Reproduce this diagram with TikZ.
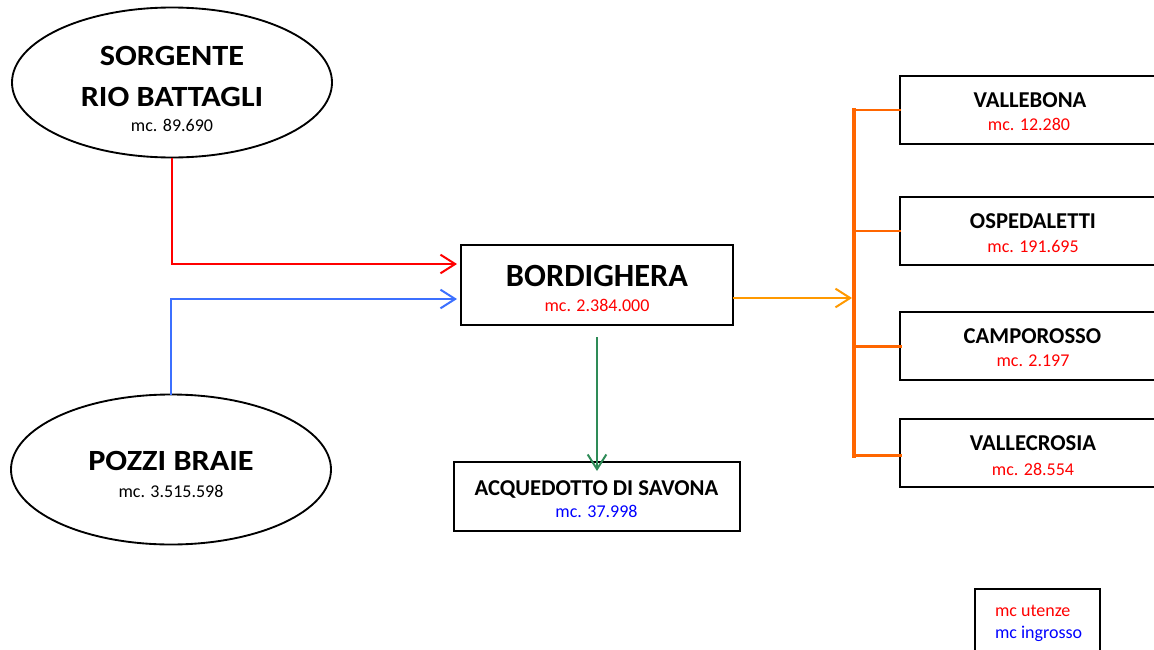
\documentclass[tikz,border=0pt]{standalone}
\usepackage{fontspec}
\setmainfont{Carlito}
\usetikzlibrary{arrows.meta,shapes.geometric}

\definecolor{flowred}{RGB}{255,0,0}
\definecolor{flowblue}{RGB}{60,112,255}
\definecolor{floworange}{RGB}{255,153,0}
\definecolor{branchorange}{RGB}{255,102,0}
\definecolor{flowgreen}{RGB}{46,139,87}
\definecolor{valred}{RGB}{255,0,0}
\definecolor{valblue}{RGB}{0,0,255}

\begin{document}
\begin{tikzpicture}[x=0.75pt,y=-0.75pt,
  every node/.style={inner sep=0pt,outer sep=0pt},
  source/.style={ellipse,draw,line width=1.4pt,minimum width=240pt,minimum height=112.5pt},
  hub/.style={rectangle,draw,line width=1.5pt,minimum width=204pt,minimum height=60pt},
  outbox/.style={rectangle,draw,line width=1.5pt,minimum width=214.5pt,minimum height=51.75pt},
  town/.style={rectangle,draw,line width=1.5pt,minimum width=198pt,minimum height=51pt},
  bigtitle/.style={anchor=base,xscale=1.1,font=\fontsize{22}{26}\selectfont\bfseries},
  hubtitle/.style={anchor=base,font=\fontsize{24.3}{29}\selectfont\bfseries},
  boxtitle/.style={anchor=base,font=\fontsize{17}{20}\selectfont\bfseries},
  value/.style={anchor=base,font=\fontsize{13.5}{16}\selectfont},
  flow/.style={line width=1.5pt,-{Straight Barb[length=11pt,width=14pt,line width=1.5pt]}},
  branch/.style={draw=branchorange,line cap=rect}
]
\useasboundingbox (0,0) rectangle (1154,650);

% sources
\node[source] (sorgente) at (172,82.5) {};
\node[bigtitle] (sorgente-t1) at (172,65) {SORGENTE};
\node[bigtitle] (sorgente-t2) at (172,106) {RIO BATTAGLI};
\node[value] (sorgente-v) at (172,131) {mc. 89.690};

\node[source] (pozzi) at (171,469.5) {};
\node[bigtitle] (pozzi-t) at (171,470.5) {POZZI BRAIE};
\node[value] (pozzi-v) at (171,497) {mc. 3.515.598};

% main node
\node[hub] (bordighera) at (597,285) {};
\node[hubtitle] (bordighera-t) at (597,286) {BORDIGHERA};
\node[value,text=valred] (bordighera-v) at (597,311.5) {mc. 2.384.000};

% wholesale outlet
\node[outbox] (savona) at (597,496.5) {};
\node[boxtitle] (savona-t) at (596.5,495.5) {ACQUEDOTTO DI SAVONA};
\node[value,text=valblue] (savona-v) at (596.5,517.5) {mc. 37.998};

% served towns
\node[town] (vallebona) at (1032,110) {};
\node[boxtitle] (vallebona-t) at (1030,107.5) {VALLEBONA};
\node[value,text=valred] (vallebona-v) at (1029,130.5) {mc. 12.280};

\node[town] (ospedaletti) at (1032,231) {};
\node[boxtitle] (ospedaletti-t) at (1033,228) {OSPEDALETTI};
\node[value,text=valred] (ospedaletti-v) at (1033,252) {mc. 191.695};

\node[town] (camporosso) at (1032,346) {};
\node[boxtitle] (camporosso-t) at (1032.5,343) {CAMPOROSSO};
\node[value,text=valred] (camporosso-v) at (1033,366) {mc. 2.197};

\node[town] (vallecrosia) at (1032,453) {};
\node[boxtitle] (vallecrosia-t) at (1033,450.5) {VALLECROSIA};
\node[value,text=valred] (vallecrosia-v) at (1033,475) {mc. 28.554};

% legend
\node[rectangle,draw,line width=1.5pt,minimum width=93.75pt,minimum height=83.25pt] (legend) at (1037.5,644.5) {};
\node[value,anchor=base west,text=valred] (legend-u) at (995,616.5) {mc utenze};
\node[value,anchor=base west,text=valblue] (legend-i) at (995,638) {mc ingrosso};

% distribution bracket
\coordinate (brTop) at (854,110);
\coordinate (brMid) at (854,298);
\coordinate (brBot) at (854,455.5);
\draw[branch,line width=3pt] (brTop) -- (brBot);
\draw[branch,line width=1.5pt] (brTop) -- (vallebona.west);
\draw[branch,line width=1.5pt] (ospedaletti.west -| brTop) -- (ospedaletti.west);
\draw[branch,line width=2.25pt] (camporosso.west -| brTop) -- (camporosso.west);
\draw[branch,line width=2.25pt] (brBot) -- (brBot -| vallecrosia.west);

% flows
\draw[flow,draw=flowred,shorten >=3pt] (sorgente.south) |- ([yshift=15.75pt]bordighera.west);
\draw[flow,draw=flowblue,shorten >=3pt] (pozzi.north) |- ([yshift=-10.5pt]bordighera.west);
\draw[flow,draw=floworange,shorten >=1.5pt] ([yshift=-9.75pt]bordighera.east) -- (brMid);
\draw[flow,draw=flowgreen,shorten <=9pt,shorten >=-6.75pt] (bordighera.south) -- (savona.north);
\end{tikzpicture}
\end{document}
